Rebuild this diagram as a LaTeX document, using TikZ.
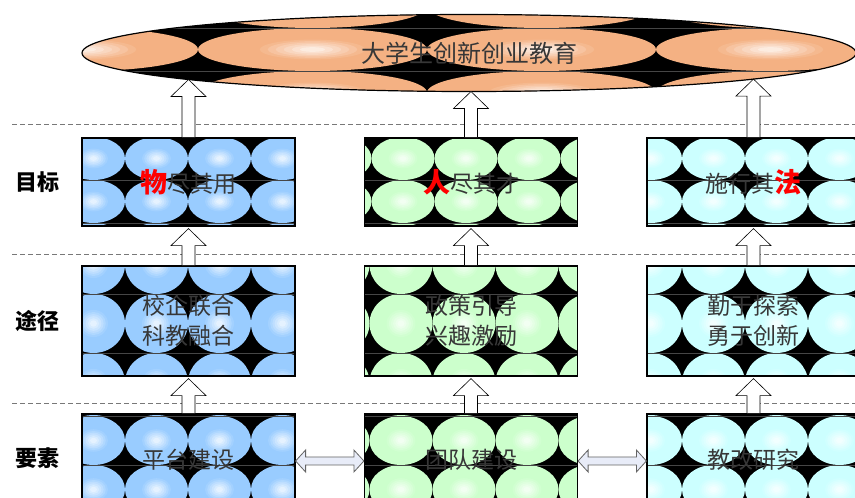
\documentclass[tikz,border=0pt]{standalone}
\usepackage{fontspec}
\newfontfamily\cjk{Noto Sans CJK SC}
\usetikzlibrary{shapes.geometric,calc,intersections}
\definecolor{tblue}{RGB}{153,204,255}
\definecolor{tgreen}{RGB}{204,255,204}
\definecolor{tcyan}{RGB}{204,255,255}
\definecolor{torange}{RGB}{244,177,131}
\definecolor{txt}{RGB}{55,55,55}
\definecolor{dblfill}{RGB}{232,236,248}
\definecolor{dblline}{RGB}{100,100,100}
\definecolor{sepline}{RGB}{120,120,120}

% texture: #1 clip path, #2 left x, #3 top y, #4 star offset x, #5 star offset y (down), #6 cell w, #7 cell h, #8 colour
\newcommand\tilefill[8]{%
  \begin{scope}
    \clip #1;
    \fill[black] #1;
    \foreach \qi in {0,1,2,3,4}{\foreach \qj in {0,1,2}{%
      \pgfmathsetmacro\qx{#2+#4+(\qi-0.5)*#6}%
      \pgfmathsetmacro\qy{#3-#5-(\qj-0.5)*#7}%
      \foreach \qr/\qt in {1/100,0.46/90,0.39/77,0.32/64,0.25/51,0.18/38,0.11/25}{%
        \fill[#8!\qt!white] (\qx,\qy) ellipse [x radius={\qr*#6/2}, y radius={\qr*#7/2}];
      }%
    }}%
    \foreach \qj in {0,1,2}{\pgfmathsetmacro\qy{#3-#5-\qj*#7}\draw[tileline] (#2-10,\qy) -- (#2+1000,\qy);}
  \end{scope}}

% block arrow pointing up: #1 tail anchor, #2 tip coordinate
\newcommand\uparr[2]{%
  \coordinate (ua) at (#2 |- #1);
  \draw[blockarr] (#2) -- ++(17.5,-17) -- ++(-11,0) -- ($(ua)+(6.5,0)$) -- ($(ua)+(-6.5,0)$) -- ($(#2)+(-6.5,-17)$) -- ++(-11,0) -- cycle;}

% horizontal double block arrow: #1 left point, #2 right point
\newcommand\hdarr[2]{%
  \draw[dblarr] (#1) -- ++(10,-11) -- ++(0,7) -- ($(#2)+(-10,-4)$) -- ++(0,-7) -- (#2) -- ++(-10,11) -- ++(0,-7) -- ($(#1)+(10,4)$) -- ++(0,7) -- cycle;}

\tikzset{
  tileline/.style={draw={rgb,255:red,70;green,70;blue,70}, line width=0.5pt},
  box/.style={draw=black, line width=1.2pt, rectangle, minimum width=213pt, inner sep=0pt,
    font=\cjk\fontsize{23}{30}\selectfont, text=txt, align=center},
  row1/.style={box, minimum height=88pt},
  row2/.style={box, minimum height=110pt},
  row3/.style={box, minimum height=94pt},
  lab/.style={font=\cjk\bfseries\fontsize{22}{24}\selectfont, text=black, inner sep=0pt},
  blockarr/.style={draw=black, fill=white, line width=0.6pt, line join=miter},
  dblarr/.style={draw=dblline, fill=dblfill, line width=0.8pt},
  sep/.style={draw=sepline, line width=0.9pt, dash pattern=on 5pt off 3pt},
}
\newcommand\hl[1]{\textcolor{red}{\bfseries\fontsize{27}{30}\selectfont #1}}
\newcommand\up[1]{\raisebox{5pt}{#1}}

\begin{document}
\begin{tikzpicture}[x=1pt,y=1pt]
\useasboundingbox (0,0) rectangle (855,498);
\clip (0,0) rectangle (855,498);
\fill[white] (0,0) rectangle (855,498);

% separators
\coordinate (s1a) at (12,374); \coordinate (s1b) at (855,374);
\coordinate (s2a) at (12,244); \coordinate (s2b) at (855,244);
\coordinate (s3a) at (12,95);  \coordinate (s3b) at (855,95);
\draw[sep] (s1a) -- (s1b);
\draw[sep] (s2a) -- (s2b);
\draw[sep] (s3a) -- (s3b);

% textures
\tilefill{(469,445) ellipse [x radius=387, y radius=38.5]}{82}{483.5}{116}{13.5}{229}{43}{torange}
\tilefill{(82,360) rectangle ++(213,-88)}{82}{360}{43}{42}{63}{43}{tblue}
\tilefill{(364.5,360) rectangle ++(213,-88)}{364.5}{360}{7}{42}{63}{43}{tgreen}
\tilefill{(647,360) rectangle ++(213,-88)}{647}{360}{35}{42}{63}{43}{tcyan}
\tilefill{(82,232) rectangle ++(213,-110)}{82}{232}{43}{28}{63}{59}{tblue}
\tilefill{(364.5,232) rectangle ++(213,-110)}{364.5}{232}{5}{28}{63}{59}{tgreen}
\tilefill{(647,232) rectangle ++(213,-110)}{647}{232}{35}{28}{63}{59}{tcyan}
\tilefill{(82,84) rectangle ++(213,-94)}{82}{84}{43}{2}{63}{49}{tblue}
\tilefill{(364.5,84) rectangle ++(213,-94)}{364.5}{84}{5}{2}{63}{49}{tgreen}
\tilefill{(647,84) rectangle ++(213,-94)}{647}{84}{35}{2}{63}{49}{tcyan}

% top ellipse
\node[ellipse, draw=black, line width=1.2pt, minimum width=774pt, minimum height=77pt, inner sep=0pt,
  name path=ell, font=\cjk\fontsize{24}{28}\selectfont, text=txt] (E) at (469,445) {大学生创新创业教育};

% left labels
\node[lab] (l1) at (38,316) {目标};
\node[lab] (l2) at (38,177) {途径};
\node[lab] (l3) at (38,40) {要素};

% row 1
\node[row1] (b11) at (188.5,316) {\hl{物}尽其用};
\node[row1] (b12) at (471,316)   {\hl{人}尽其才};
\node[row1] (b13) at (753.5,316) {施行其\hl{法}};
% row 2
\node[row2] (b21) at (188.5,177) {校企联合\\科教融合};
\node[row2] (b22) at (471,177)   {政策引导\\兴趣激励};
\node[row2] (b23) at (753.5,177) {勤于探索\\勇于创新};
% row 3
\node[row3] (b31) at (188.5,37) {\up{平台建设}};
\node[row3] (b32) at (471,37)   {\up{团队建设}};
\node[row3] (b33) at (753.5,37) {\up{教改研究}};

% arrows to the ellipse
\path[name path=v1] (b11.north) -- ++(0,80);
\path[name path=v2] (b12.north) -- ++(0,80);
\path[name path=v3] (b13.north) -- ++(0,80);
\path[name intersections={of=ell and v1, by=e1}];
\path[name intersections={of=ell and v2, by=e2}];
\path[name intersections={of=ell and v3, by=e3}];
\uparr{b11.north}{e1}
\uparr{b12.north}{e2}
\uparr{b13.north}{e3}

% arrows between rows
\coordinate (t11) at ($(b11.south)+(0,-2)$);
\coordinate (t12) at ($(b12.south)+(0,-2)$);
\coordinate (t13) at ($(b13.south)+(0,-2)$);
\coordinate (t21) at ($(b21.south)+(0,-2)$);
\coordinate (t22) at ($(b22.south)+(0,-2)$);
\coordinate (t23) at ($(b23.south)+(0,-2)$);
\uparr{b21.north}{t11}
\uparr{b22.north}{t12}
\uparr{b23.north}{t13}
\uparr{b31.north}{t21}
\uparr{b32.north}{t22}
\uparr{b33.north}{t23}

% double arrows
\hdarr{b31.east}{b32.west}
\hdarr{b32.east}{b33.west}
\end{tikzpicture}
\end{document}
